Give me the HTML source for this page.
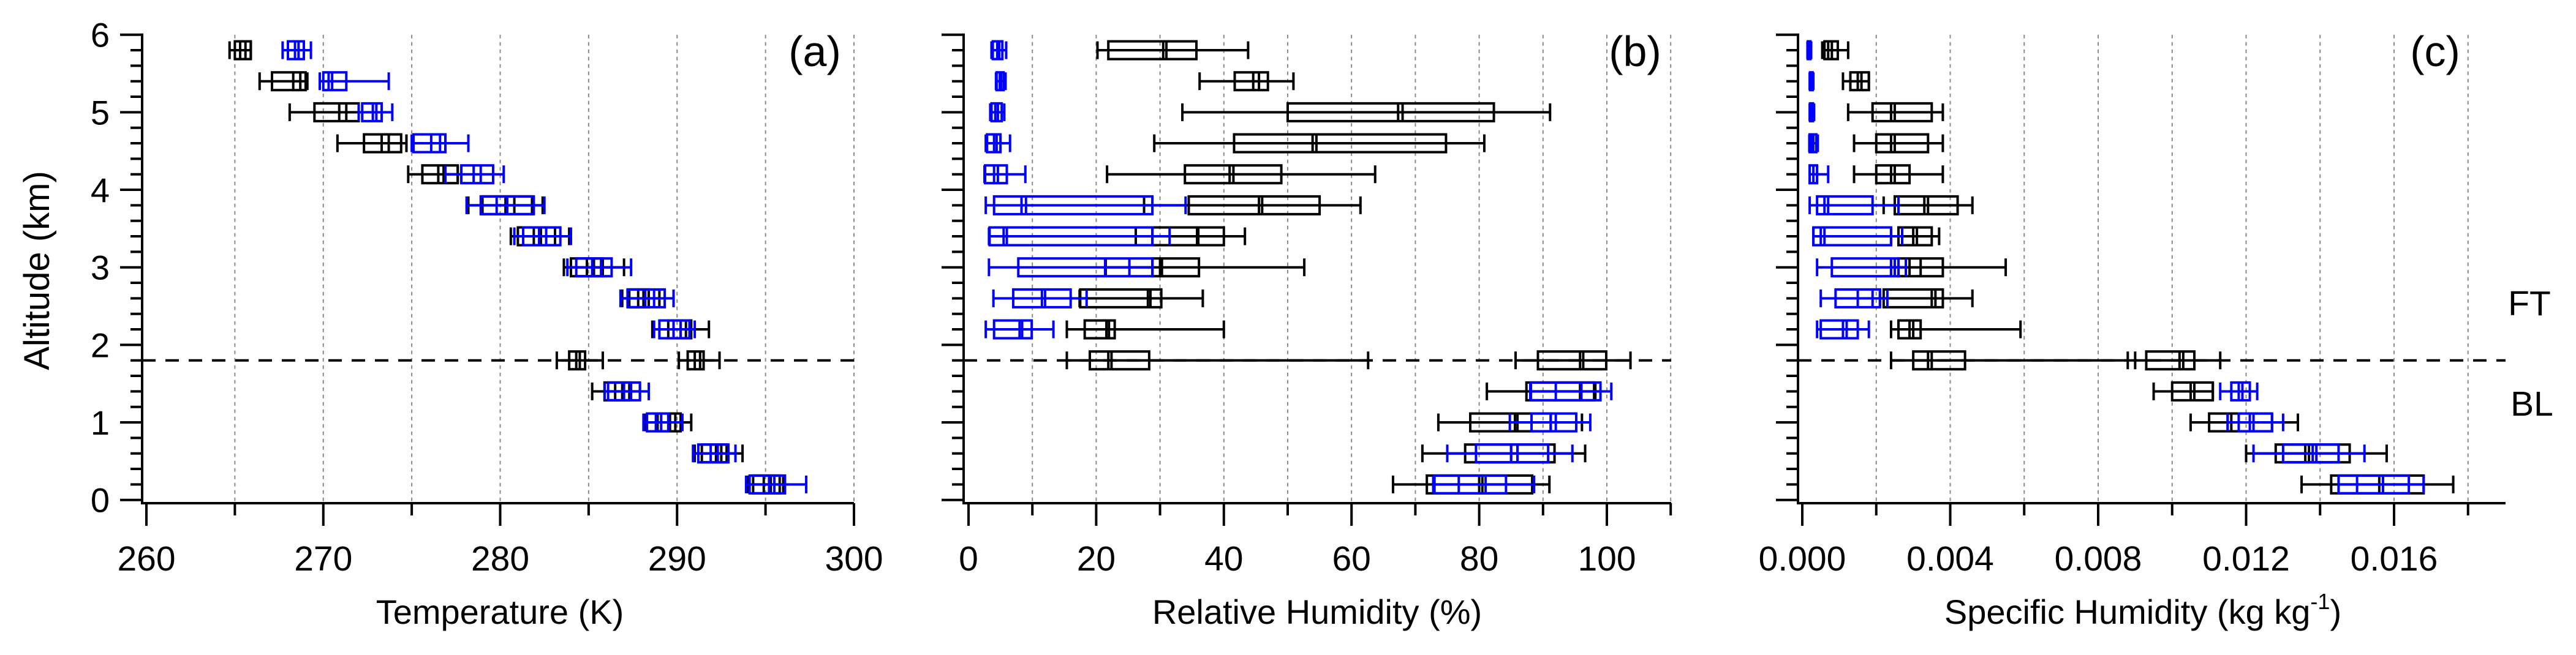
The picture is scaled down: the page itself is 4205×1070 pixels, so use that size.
<!DOCTYPE html>
<html><head><meta charset="utf-8">
<style>
html,body{margin:0;padding:0;background:#fff;}
svg{display:block;font-family:"Liberation Sans",Arial,sans-serif;}
</style></head>
<body>
<svg id="chart" width="4205" height="1070" viewBox="0 0 4205 1070" xmlns="http://www.w3.org/2000/svg">
<rect x="0" y="0" width="4205" height="1070" fill="#fff"/>
<g id="root"></g>
</svg>
<script>
// shared row data
const altitudes = [5.8,5.8,5.4,5.4,5.0,5.0,4.6,4.6,4.2,4.2,3.8,3.8,3.4,3.4,3.0,3.0,2.6,2.6,2.2,2.2,1.8,1.8,1.4,1.4,1.0,1.0,0.6,0.6,0.2,0.2];
const groups = ['k','b','k','b','k','b','k','b','k','b','k','b','k','b','k','b','k','b','k','b','k','k','k','b','k','b','k','b','k','b'];
const boundaryAltitude = 1.8;
const yTicks = [0,1,2,3,4,5,6];

// panel (a) temperature
const tLow  = [264.7,267.7,266.4,269.8,268.1,272.0,270.8,275.0,274.8,276.9,278.2,278.1,280.6,280.8,283.6,283.8,286.9,286.8,288.6,288.7,283.2,290.1,285.2,285.9,288.2,288.1,291.0,290.9,294.0,293.9];
const tQ1   = [265.0,268.0,267.1,270.0,269.5,272.2,272.3,275.1,275.6,277.8,279.0,278.9,281.0,281.3,284.0,284.3,287.3,287.2,289.5,289.0,283.9,290.6,285.9,286.1,288.9,288.3,291.4,291.2,294.3,294.1];
const tMed  = [265.3,268.4,268.3,270.3,270.9,272.8,273.3,276.1,276.5,278.5,280.3,279.8,281.9,282.2,284.9,285.2,287.8,288.2,290.2,289.8,284.3,291.0,286.5,287.0,289.6,288.8,292.2,291.9,294.9,295.2];
const tMean = [265.6,268.6,268.7,270.5,271.3,273.0,273.7,276.6,276.8,278.9,280.8,280.4,282.3,282.6,285.3,285.7,288.1,288.7,290.5,290.2,284.5,291.3,286.9,287.4,289.9,289.1,292.5,292.3,295.3,295.5];
const tQ3   = [265.9,268.9,269.0,271.3,272.0,273.3,274.4,276.9,277.6,279.6,281.8,281.9,283.1,283.4,285.8,286.3,288.4,289.3,290.8,290.7,284.8,291.5,287.3,287.9,290.2,289.5,292.8,292.9,295.8,296.1];
const tHigh = [265.9,269.3,269.1,273.7,272.0,273.9,274.7,278.2,277.6,280.2,282.4,282.5,283.9,284.0,287.0,287.4,289.0,289.8,291.8,291.0,285.8,292.4,287.9,288.4,290.8,290.3,293.7,293.3,296.0,297.3];
const tTicks = [260,270,280,290,300];

// panel (b) relative humidity
const rhLow  = [20.2,3.6,36.2,4.3,33.5,3.4,29.1,2.7,21.7,2.5,27.5,2.7,26.2,3.2,21.5,3.2,17.4,3.9,15.4,2.7,15.4,85.7,81.2,88.0,73.6,84.8,71.1,75.0,66.5,72.8];
const rhQ1   = [21.9,3.8,41.7,4.4,50.0,3.6,41.6,2.9,33.9,2.6,34.5,4.0,28.8,3.3,28.8,7.8,17.5,7.0,18.2,4.0,19.0,89.2,87.4,88.1,78.6,88.2,77.8,79.5,71.8,73.0];
const rhMed  = [30.5,4.5,44.6,4.9,67.3,4.2,53.9,4.0,40.9,4.0,45.5,8.3,35.8,5.5,30.0,21.4,28.1,11.5,21.6,8.0,21.9,95.8,95.8,92.0,85.6,91.2,85.0,85.0,80.0,76.8];
const rhMean = [31.0,4.8,45.5,5.1,68.0,4.6,54.5,4.4,41.5,4.6,46.0,9.0,36.0,6.0,30.3,25.2,28.5,12.0,22.0,8.4,22.4,96.3,96.0,96.0,86.0,92.0,86.0,86.0,80.5,81.0];
const rhQ3   = [35.7,5.3,46.9,5.5,82.3,5.2,74.8,5.0,49.0,6.0,55.0,28.8,40.0,28.8,36.1,28.8,30.2,16.0,22.9,9.9,28.3,99.9,98.0,99.0,91.2,95.2,91.8,90.8,88.3,84.2];
const rhHigh = [43.8,5.9,50.9,5.8,91.1,5.6,80.8,6.5,63.7,8.9,61.4,34.0,43.3,31.5,52.6,28.8,36.7,18.5,40.0,13.3,62.6,103.7,98.2,100.7,96.1,97.4,96.6,94.6,91.0,88.6];
const rhTicks = [0,20,40,60,80,100];

// panel (c) specific humidity
const qLow  = [.00054,.00014,.0011,.00020,.00124,.00020,.0014,.00019,.0014,.0002,.0022,.0002,.0024,.0003,.0024,.0004,.0021,.0005,.0024,.0004,.0024,.0090,.0095,.0113,.0105,.0115,.0120,.0122,.0135,.0145];
const qQ1   = [.00060,.00015,.0013,.00021,.0019,.00021,.0020,.00020,.0020,.0002,.0025,.0004,.0026,.0003,.0026,.0008,.0022,.0009,.0026,.0005,.0030,.0093,.0100,.0116,.0110,.0118,.0128,.0130,.0143,.0145];
const qMed  = [.00070,.00018,.0015,.00023,.0024,.00024,.0024,.00026,.0024,.0003,.0033,.0006,.0030,.0005,.0029,.0024,.0035,.0015,.0029,.0011,.0034,.0102,.0105,.0118,.0115,.0121,.0136,.0138,.0156,.0150];
const qMean = [.00080,.00020,.0016,.00025,.0025,.00026,.0025,.00030,.0025,.0004,.0034,.0007,.0031,.0006,.0032,.0025,.0036,.0019,.0030,.0012,.0035,.0103,.0106,.0119,.0116,.0122,.0137,.0139,.0157,.0157];
const qQ3   = [.00096,.00022,.0018,.00028,.0035,.00029,.0034,.00038,.0029,.0004,.0042,.0019,.0035,.0024,.0038,.0026,.0038,.0021,.0032,.0015,.0044,.0106,.0111,.0121,.0127,.0127,.0148,.0145,.0168,.0164];
const qHigh = [.00124,.00024,.0018,.00030,.0038,.00032,.0038,.00042,.0038,.0007,.0046,.0026,.0037,.0027,.0055,.0028,.0046,.0023,.0059,.0018,.0088,.0113,.0111,.0123,.0134,.0130,.0158,.0152,.0176,.0168];
const qTicks = [0,0.004,0.008,0.012,0.016];

const NS = 'http://www.w3.org/2000/svg';
const root = document.getElementById('root');
function mk(tag, attrs, parent){
  const e = document.createElementNS(NS, tag);
  for (const k in attrs) e.setAttribute(k, attrs[k]);
  (parent||root).appendChild(e);
  return e;
}
const yTop = 56.7, yBot = 816.7, axisY = 822;
function yScale(a){ return yBot - (yBot - yTop) * a / 6; }

const panels = [
  {key:'temperature', axisX:232, axisEnd:1394, x0:239, x1:1394, d0:260, d1:300,
   grid:[265,270,275,280,285,290,295,300], minor:[265,275,285,295], ticks:tTicks,
   fmt:v=>String(v), low:tLow,q1:tQ1,med:tMed,mean:tMean,q3:tQ3,high:tHigh, label:'(a)', labelX:1330, title:'Temperature (K)', titleX:816},
  {key:'relative-humidity', axisX:1573, axisEnd:2728, x0:1581, x1:2623, d0:0, d1:100,
   grid:[10,20,30,40,50,60,70,80,90,100,110], minor:[10,30,50,70,90,110], ticks:rhTicks,
   fmt:v=>String(v), low:rhLow,q1:rhQ1,med:rhMed,mean:rhMean,q3:rhQ3,high:rhHigh, label:'(b)', labelX:2669, title:'Relative Humidity (%)', titleX:2150},
  {key:'specific-humidity', axisX:2935, axisEnd:4090, x0:2942, x1:3908, d0:0, d1:0.016,
   grid:[0.002,0.004,0.006,0.008,0.010,0.012,0.014,0.016,0.018], minor:[0.002,0.006,0.010,0.014,0.018], ticks:qTicks,
   fmt:v=>v.toFixed(3), low:qLow,q1:qQ1,med:qMed,mean:qMean,q3:qQ3,high:qHigh, label:'(c)', labelX:3975, title:'Specific Humidity (kg kg', titleX:3498}
];

panels.forEach((p, pi) => {
  const g = mk('g', {});
  
  
  const xs = v => p.x0 + (v - p.d0) * (p.x1 - p.x0) / (p.d1 - p.d0);
  p.grid.forEach(v => {
    const l = mk('line', {x1:xs(v), x2:xs(v), y1:yTop, y2:axisY, stroke:'#8a8a8a', 'stroke-width':2, 'stroke-dasharray':'6 6'}, g);
    
    
  });
  const yb = yScale(boundaryAltitude);
  const bl = mk('line', {x1:p.axisX, x2:p.axisEnd, y1:yb, y2:yb, stroke:'#000', 'stroke-width':4, 'stroke-dasharray':'22 16'}, g);
  
  
  const order = [];
  groups.forEach((c,i)=>{ if(c==='k') order.push(i); });
  groups.forEach((c,i)=>{ if(c==='b') order.push(i); });
  order.forEach(i => {
    const col = groups[i]==='k' ? '#000' : '#0000ff';
    const y = yScale(altitudes[i]), h = 14.5;
    const bg = mk('g', {stroke:col, 'stroke-width':4, fill:'none'}, g);
    
    
    const xl = xs(p.low[i]), xq1 = xs(p.q1[i]), xm = xs(p.med[i]), xa = xs(p.mean[i]), xq3 = xs(p.q3[i]), xh = xs(p.high[i]);
    mk('line', {x1:xl, x2:xq1, y1:y, y2:y}, bg);
    mk('line', {x1:xq3, x2:xh, y1:y, y2:y}, bg);
    mk('line', {x1:xl, x2:xl, y1:y-h, y2:y+h}, bg);
    mk('line', {x1:xh, x2:xh, y1:y-h, y2:y+h}, bg);
    mk('rect', {x:xq1, y:y-h, width:Math.max(1,xq3-xq1), height:2*h}, bg);
    mk('line', {x1:xq1, x2:xq3, y1:y, y2:y}, bg);
    mk('line', {x1:xm, x2:xm, y1:y-h, y2:y+h}, bg);
    mk('line', {x1:xa, x2:xa, y1:y-h, y2:y+h}, bg);
  });
  const ax = mk('g', {stroke:'#000', 'stroke-width':4}, g);
  
  
  mk('line', {x1:p.axisX, x2:p.axisX, y1:yTop-2, y2:axisY+2}, ax);
  mk('line', {x1:p.axisX-2, x2:p.axisEnd, y1:axisY, y2:axisY}, ax);
  for (let a = 0; a <= 6.001; a += 0.2) {
    const major = Math.abs(a - Math.round(a)) < 0.01;
    const yy = yScale(a);
    mk('line', {x1:p.axisX - (major?36:19), x2:p.axisX, y1:yy, y2:yy}, ax);
  }
  p.ticks.forEach(v => mk('line', {x1:xs(v), x2:xs(v), y1:axisY, y2:axisY+37}, ax));
  p.minor.forEach(v => mk('line', {x1:xs(v), x2:xs(v), y1:axisY, y2:axisY+20}, ax));
  p.ticks.forEach(v => {
    const t = mk('text', {x:xs(v), y:932, 'font-size':57, 'text-anchor':'middle', fill:'#000'}, g);
    t.textContent = p.fmt(v);
    
    
  });
  if (pi === 0) {
    yTicks.forEach(v => {
      const t = mk('text', {x:179, y:yScale(v)+20, 'font-size':56, 'text-anchor':'end', fill:'#000'}, g);
      t.textContent = String(v);
      
      
    });
  }
  const pl = mk('text', {x:p.labelX, y:108, 'font-size':70, 'text-anchor':'middle', fill:'#000'}, g);
  pl.textContent = p.label;
  
  
  const tt = mk('text', {x:p.titleX, y:1019, 'font-size':56, 'text-anchor':'middle', fill:'#000'}, g);
  
  
  if (pi === 2) {
    tt.appendChild(document.createTextNode(p.title));
    const sup = document.createElementNS(NS, 'tspan');
    sup.setAttribute('dy', -24); sup.setAttribute('font-size', 36);
    sup.textContent = '-1';
    tt.appendChild(sup);
    const cl = document.createElementNS(NS, 'tspan');
    cl.setAttribute('dy', 24);
    cl.textContent = ')';
    tt.appendChild(cl);
  } else {
    tt.textContent = p.title;
  }
});
const yt = mk('text', {x:0, y:0, 'font-size':58, 'text-anchor':'middle', fill:'#000', transform:'translate(80,442) rotate(-90)'});
yt.textContent = 'Altitude (km)';


const ft = mk('text', {x:4129, y:515, 'font-size':57, 'text-anchor':'middle', fill:'#000'});
ft.textContent = 'FT';


const blt = mk('text', {x:4133, y:679, 'font-size':57, 'text-anchor':'middle', fill:'#000'});
blt.textContent = 'BL';


</script>
</body></html>
